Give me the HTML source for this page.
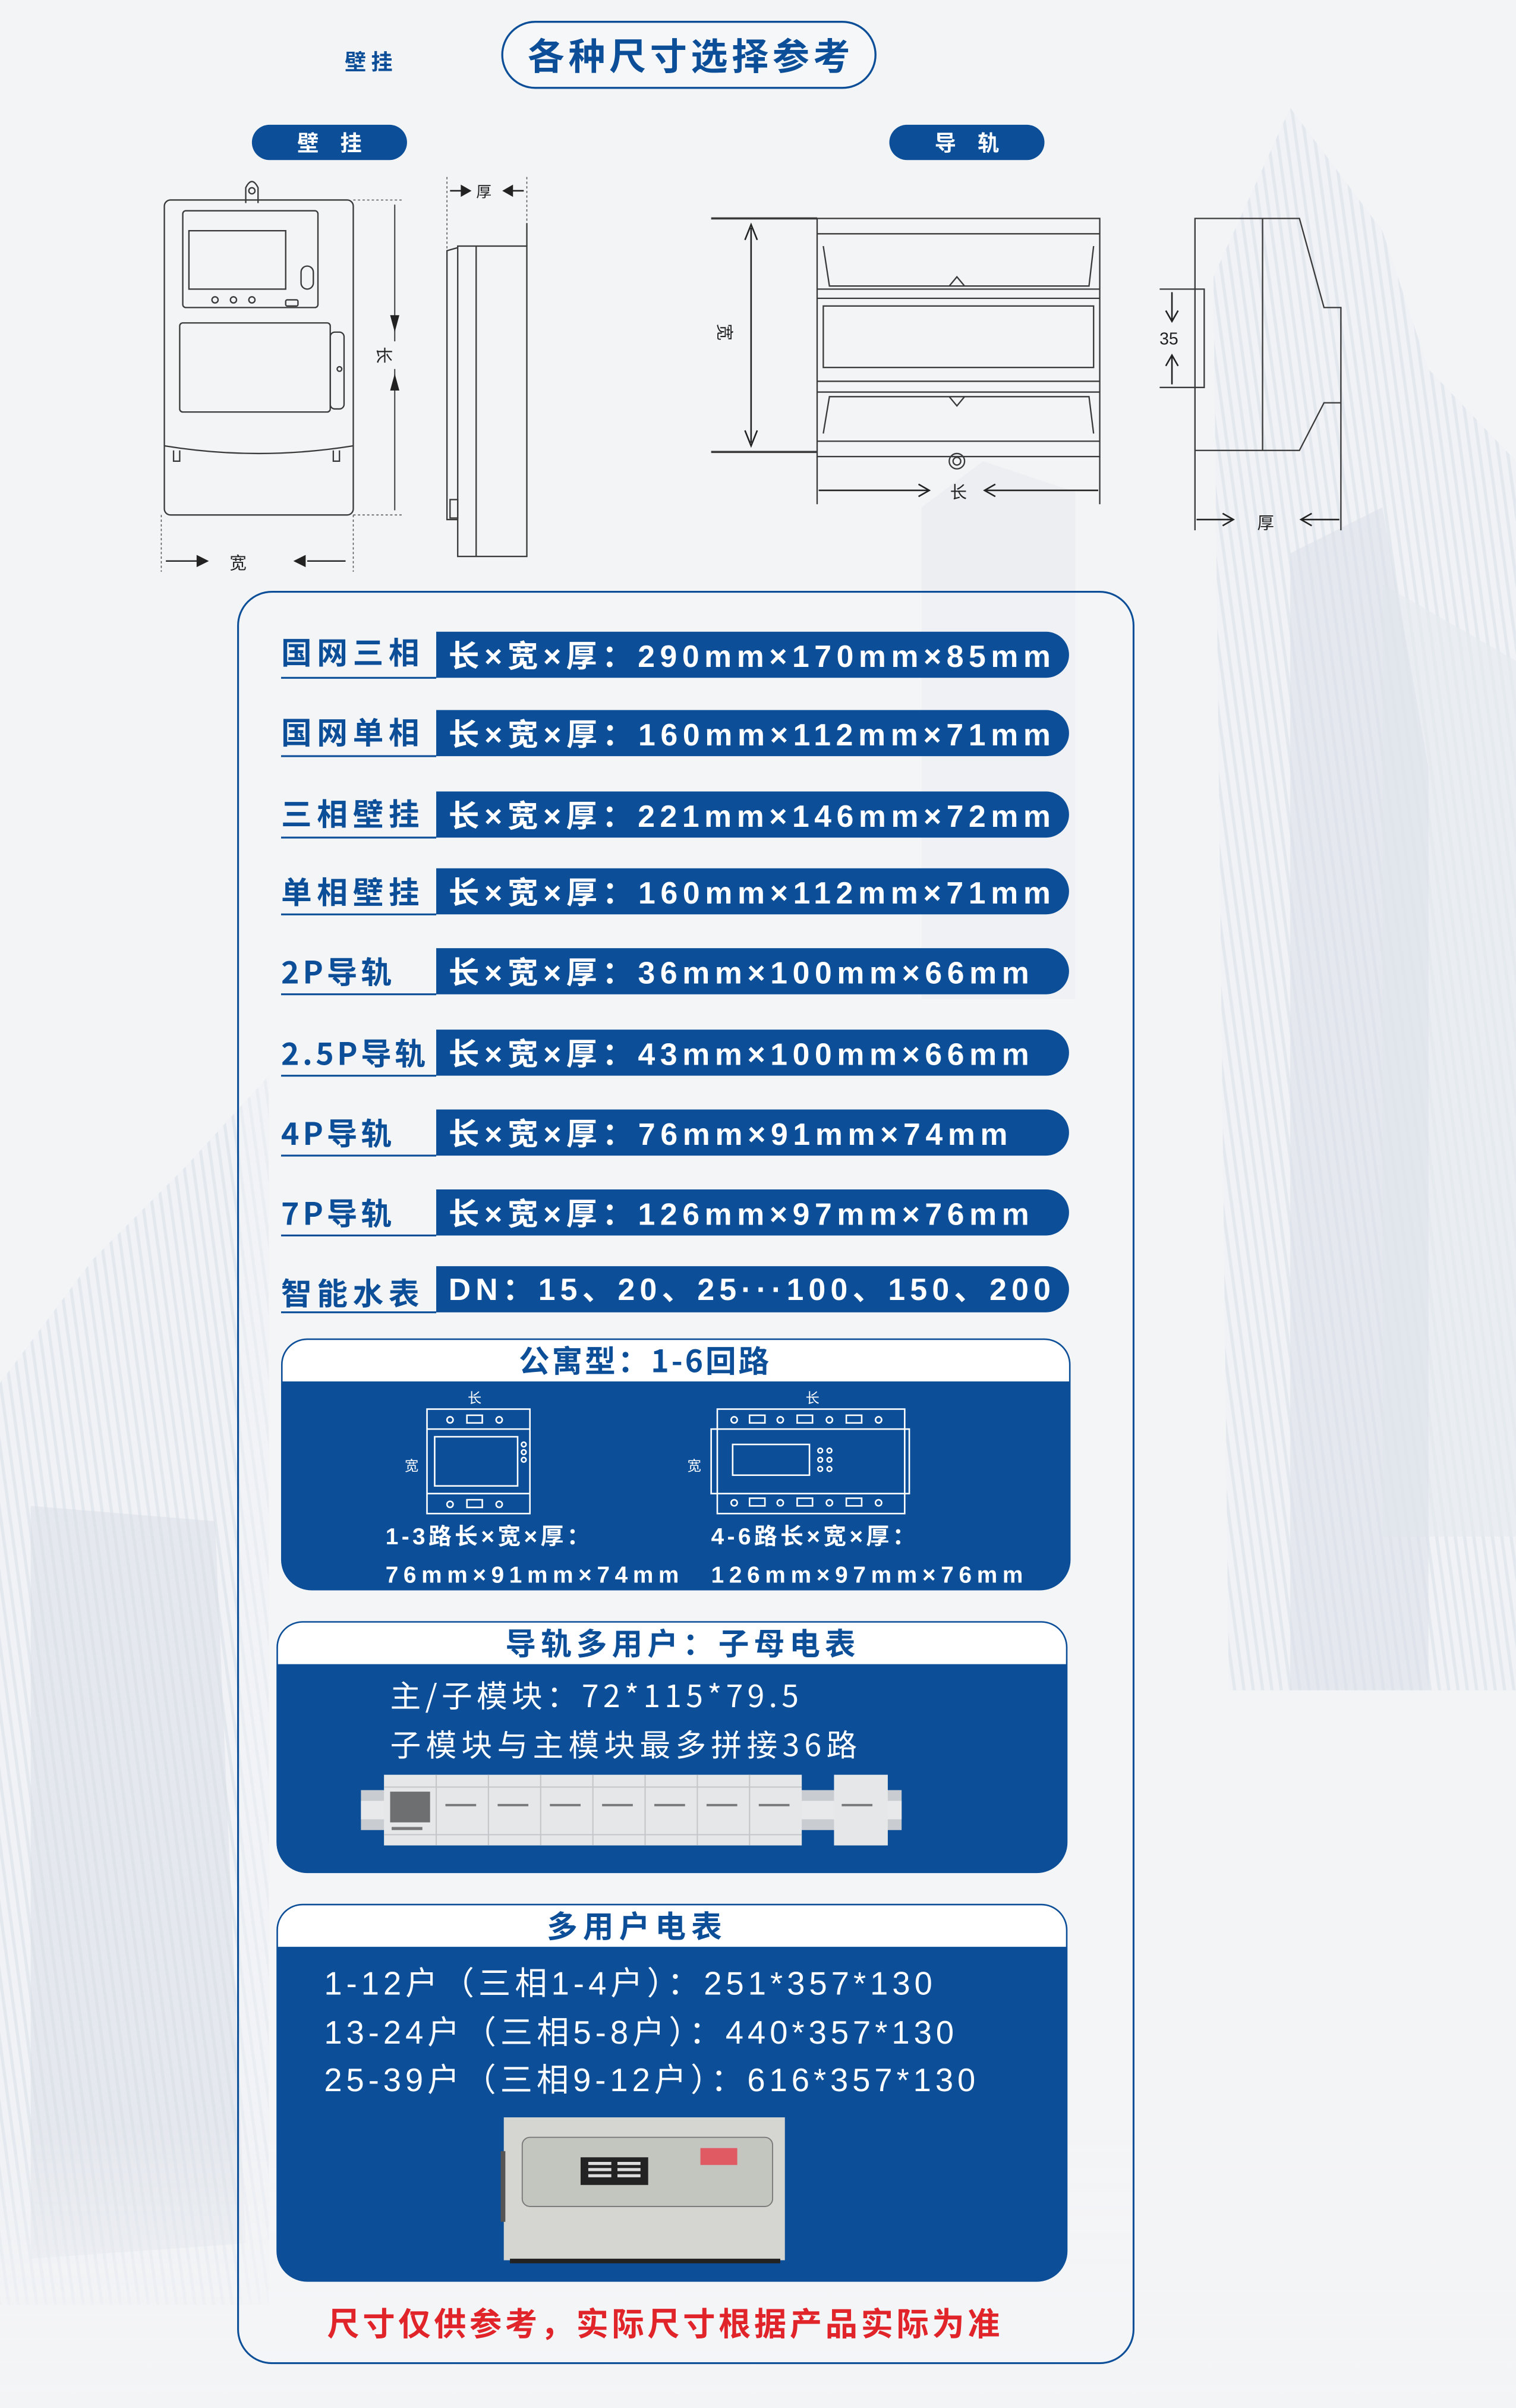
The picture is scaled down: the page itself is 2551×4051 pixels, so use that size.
<!DOCTYPE html>
<html><head><meta charset="utf-8"><style>
html,body{margin:0;padding:0;background:#f3f4f6;}
svg{display:block;}
text{font-family:"Liberation Sans","Noto Sans CJK SC",sans-serif;}
.c{font-family:"Noto Sans CJK SC","Liberation Sans",sans-serif;}
.l{font-family:"Liberation Sans","Noto Sans CJK SC",sans-serif;}
.ln{fill:none;stroke:#3a3a3a;stroke-width:0.9;}
.lt{fill:none;stroke:#555;stroke-width:0.6;}
.b{fill:#0c4f98;}
</style></head><body>
<svg width="2551" height="4051" viewBox="0 0 987 1567" xmlns="http://www.w3.org/2000/svg">
<defs>
<pattern id="st" width="6" height="6" patternUnits="userSpaceOnUse" patternTransform="rotate(-8)">
<rect width="6" height="6" fill="#eef1f5"/><rect width="2" height="6" fill="#dce3ec"/>
</pattern>
<linearGradient id="fade" x1="0" y1="0" x2="0" y2="1">
<stop offset="0" stop-color="#f3f4f6" stop-opacity="0"/><stop offset="1" stop-color="#f3f4f6" stop-opacity="1"/>
</linearGradient>
</defs>
<rect width="987" height="1567" fill="#f3f4f6"/>
<g opacity="0.7">
<polygon points="790,180 840,70 900,150 930,240 987,300 987,1100 800,1100" fill="url(#st)"/>
<polygon points="900,380 987,430 987,1000 900,1000" fill="#dfe6ef" opacity="0.6"/>
<polygon points="0,900 60,820 120,760 175,700 175,1500 0,1500" fill="url(#st)"/>
<polygon points="600,330 640,300 700,320 700,650 600,650" fill="#e6eaf0" opacity="0.7"/>
<polygon points="840,360 900,330 930,500 930,1100 840,1100" fill="#cfd8e4" opacity="0.5"/>
<polygon points="20,980 140,990 160,1460 20,1470" fill="#c9d3e0" opacity="0.45"/>
</g>
<rect x="0" y="1380" width="987" height="187" fill="url(#fade)"/>

<text x="240" y="45" class="c" font-size="14" text-anchor="middle" font-weight="bold" fill="#0c4f98">壁 挂</text>
<rect x="327" y="14" width="243" height="43" rx="21.5" fill="#fff" fill-opacity="0.3" stroke="#0c4f98" stroke-width="1.3"/>
<text x="448.5" y="45" class="c" font-size="24" font-weight="bold" text-anchor="middle" fill="#0c4f98" textLength="210">各种尺寸选择参考</text>

<rect x="164" y="81" width="101" height="23" rx="11.5" class="b"/>
<text x="214.5" y="98" class="c" font-size="14" font-weight="bold" fill="#fff" text-anchor="middle">壁　挂</text>
<rect x="579" y="81" width="101" height="23" rx="11.5" class="b"/>
<text x="629.5" y="98" class="c" font-size="14" font-weight="bold" fill="#fff" text-anchor="middle">导　轨</text>

<g class="ln">
<path d="M160 132 L160 122 Q164 114 168 122 L168 132"/>
<circle cx="164" cy="124" r="2"/>
<rect x="107" y="130" width="123" height="205" rx="4"/>
<rect x="119" y="137" width="88" height="63" rx="2"/>
<rect x="123" y="150" width="63" height="38"/>
<circle cx="140" cy="195" r="2"/><circle cx="152" cy="195" r="2"/><circle cx="164" cy="195" r="2"/>
<rect x="196" y="173" width="8" height="15" rx="4"/>
<rect x="186" y="195" width="8" height="4" rx="1"/>
<rect x="117" y="210" width="98" height="58" rx="2"/>
<rect x="215" y="216" width="9" height="50" rx="3"/>
<path d="M107 290 Q168 300 230 290"/>
<path d="M113 293 L113 300 L117 300 L117 293"/><path d="M217 293 L217 300 L221 300 L221 293"/>
<circle cx="221" cy="240" r="1.5"/>
</g>
<g class="lt" stroke-dasharray="1.5 1.5">
<line x1="230" y1="130" x2="262" y2="130"/><line x1="230" y1="335" x2="262" y2="335"/>
<line x1="105" y1="335" x2="105" y2="372"/><line x1="230" y1="335" x2="230" y2="372"/>
</g>
<line x1="257" y1="133" x2="257" y2="332" stroke="#444" stroke-width="0.8"/>
<polygon points="254,205 260,205 257,216" fill="#222"/>
<polygon points="254,254 260,254 257,243" fill="#222"/>
<rect x="245" y="222" width="14" height="18" fill="#f3f4f6"/>
<text x="251" y="236" class="c" font-size="11" text-anchor="middle" fill="#222" transform="rotate(90 251 231)">长</text>
<line x1="108" y1="365" x2="130" y2="365" stroke="#222" stroke-width="0.9"/><polygon points="128,361 136,365 128,369" fill="#222"/>
<line x1="200" y1="365" x2="225" y2="365" stroke="#222" stroke-width="0.9"/><polygon points="199,361 191,365 199,369" fill="#222"/>
<text x="155" y="370" class="c" font-size="11" text-anchor="middle" fill="#222">宽</text>
<g class="ln">
<rect x="298" y="160" width="45" height="202"/>
<path d="M298 161 L291 163 L291 338 L298 338"/>
<line x1="310" y1="160" x2="310" y2="362"/>
<rect x="293" y="325" width="5" height="12"/>
<line x1="343" y1="145" x2="343" y2="160"/>
</g>
<line x1="291" y1="115" x2="291" y2="162" class="lt" stroke-dasharray="1.5 1.5"/>
<line x1="343" y1="115" x2="343" y2="145" class="lt" stroke-dasharray="1.5 1.5"/>
<line x1="293" y1="124" x2="302" y2="124" stroke="#222"/><polygon points="300,120 307,124 300,128" fill="#222"/>
<line x1="332" y1="124" x2="341" y2="124" stroke="#222"/><polygon points="334,120 327,124 334,128" fill="#222"/>
<text x="315" y="128" class="c" font-size="10" text-anchor="middle" fill="#222">厚</text>

<g class="ln">
<rect x="532" y="142" width="184" height="155"/>
<line x1="463" y1="142" x2="532" y2="142" stroke-width="1.4"/>
<line x1="463" y1="294" x2="532" y2="294" stroke-width="1.4"/>
<line x1="532" y1="152" x2="716" y2="152"/>
<line x1="532" y1="188" x2="716" y2="188"/>
<line x1="532" y1="194" x2="716" y2="194"/>
<line x1="532" y1="248" x2="716" y2="248"/>
<line x1="532" y1="255" x2="716" y2="255"/>
<line x1="532" y1="287" x2="716" y2="287"/>
<rect x="536" y="199" width="176" height="40"/>
<path d="M536 160 L540 186 L709 186 L712 160"/>
<path d="M536 282 L540 258 L709 258 L712 282"/>
<path d="M618 186 L623 180 L628 186"/><path d="M618 258 L623 264 L628 258"/>
<circle cx="623" cy="300" r="5"/><circle cx="623" cy="300" r="2.5"/>
<line x1="532" y1="297" x2="532" y2="328"/><line x1="716" y1="297" x2="716" y2="328"/>
</g>
<line x1="489" y1="148" x2="489" y2="288" stroke="#222"/>
<path d="M485 156 L489 146 L493 156 M485 280 L489 290 L493 280" fill="none" stroke="#222"/>
<text x="472" y="212" class="c" font-size="11" text-anchor="middle" fill="#222" transform="rotate(90 468 212)">宽</text>
<line x1="533" y1="319" x2="604" y2="319" stroke="#222"/><path d="M598 315 L605 319 L598 323" fill="none" stroke="#222"/>
<line x1="642" y1="319" x2="715" y2="319" stroke="#222"/><path d="M648 315 L641 319 L648 323" fill="none" stroke="#222"/>
<text x="624" y="324" class="c" font-size="11" text-anchor="middle" fill="#222">长</text>
<g class="ln">
<path d="M778 142 L846 142 L862 200 L873 200 L873 262 L862 262 L846 293 L778 293 Z"/>
<line x1="822" y1="142" x2="822" y2="293"/>
<path d="M778 188 L784 188 L784 252 L778 252"/>
<line x1="778" y1="293" x2="778" y2="345"/><line x1="873" y1="262" x2="873" y2="345"/>
<line x1="755" y1="188" x2="778" y2="188"/><line x1="755" y1="252" x2="778" y2="252"/>
</g>
<path d="M763 190 L763 208 M759 202 L763 209 L767 202 M763 250 L763 232 M759 238 L763 231 L767 238" fill="none" stroke="#222"/>
<text x="761" y="224" font-size="11" text-anchor="middle" fill="#222">35</text>
<line x1="779" y1="338" x2="802" y2="338" stroke="#222"/><path d="M796 334 L803 338 L796 342" fill="none" stroke="#222"/>
<line x1="848" y1="338" x2="872" y2="338" stroke="#222"/><path d="M854 334 L847 338 L854 342" fill="none" stroke="#222"/>
<text x="824" y="344" class="c" font-size="11" text-anchor="middle" fill="#222">厚</text>

<rect x="155" y="385" width="583" height="1153" rx="22" fill="#f6f7f9" fill-opacity="0.35" stroke="#0c4f98" stroke-width="1.2"/>

<g font-weight="bold">
<g>
<line x1="183" y1="441" x2="284" y2="441" stroke="#0c4f98" stroke-width="1.2"/>
<path d="M284 411 L681 411 A15 15 0 0 1 681 441 L284 441 Z" class="b"/>
<text x="183" y="432" class="c" font-size="20" fill="#0c4f98" textLength="90">国网三相</text>
<text x="292" y="434" class="l" font-size="20" fill="#fff" textLength="392">长×宽×厚：290mm×170mm×85mm</text>
</g>
<g>
<line x1="183" y1="492" x2="284" y2="492" stroke="#0c4f98" stroke-width="1.2"/>
<path d="M284 462 L681 462 A15 15 0 0 1 681 492 L284 492 Z" class="b"/>
<text x="183" y="484" class="c" font-size="20" fill="#0c4f98" textLength="90">国网单相</text>
<text x="292" y="485" class="l" font-size="20" fill="#fff" textLength="392">长×宽×厚：160mm×112mm×71mm</text>
</g>
<g>
<line x1="183" y1="545" x2="284" y2="545" stroke="#0c4f98" stroke-width="1.2"/>
<path d="M284 515 L681 515 A15 15 0 0 1 681 545 L284 545 Z" class="b"/>
<text x="183" y="537" class="c" font-size="20" fill="#0c4f98" textLength="90">三相壁挂</text>
<text x="292" y="538" class="l" font-size="20" fill="#fff" textLength="392">长×宽×厚：221mm×146mm×72mm</text>
</g>
<g>
<line x1="183" y1="595" x2="284" y2="595" stroke="#0c4f98" stroke-width="1.2"/>
<path d="M284 565 L681 565 A15 15 0 0 1 681 595 L284 595 Z" class="b"/>
<text x="183" y="588" class="c" font-size="20" fill="#0c4f98" textLength="90">单相壁挂</text>
<text x="292" y="588" class="l" font-size="20" fill="#fff" textLength="392">长×宽×厚：160mm×112mm×71mm</text>
</g>
<g>
<line x1="183" y1="647" x2="284" y2="647" stroke="#0c4f98" stroke-width="1.2"/>
<path d="M284 617 L681 617 A15 15 0 0 1 681 647 L284 647 Z" class="b"/>
<text x="183" y="640" class="c" font-size="20" fill="#0c4f98" textLength="72">2P导轨</text>
<text x="292" y="640" class="l" font-size="20" fill="#fff" textLength="378">长×宽×厚：36mm×100mm×66mm</text>
</g>
<g>
<line x1="183" y1="700" x2="284" y2="700" stroke="#0c4f98" stroke-width="1.2"/>
<path d="M284 670 L681 670 A15 15 0 0 1 681 700 L284 700 Z" class="b"/>
<text x="183" y="693" class="c" font-size="20" fill="#0c4f98" textLength="94">2.5P导轨</text>
<text x="292" y="693" class="l" font-size="20" fill="#fff" textLength="378">长×宽×厚：43mm×100mm×66mm</text>
</g>
<g>
<line x1="183" y1="752" x2="284" y2="752" stroke="#0c4f98" stroke-width="1.2"/>
<path d="M284 722 L681 722 A15 15 0 0 1 681 752 L284 752 Z" class="b"/>
<text x="183" y="745" class="c" font-size="20" fill="#0c4f98" textLength="72">4P导轨</text>
<text x="292" y="745" class="l" font-size="20" fill="#fff" textLength="364">长×宽×厚：76mm×91mm×74mm</text>
</g>
<g>
<line x1="183" y1="804" x2="284" y2="804" stroke="#0c4f98" stroke-width="1.2"/>
<path d="M284 774 L681 774 A15 15 0 0 1 681 804 L284 804 Z" class="b"/>
<text x="183" y="797" class="c" font-size="20" fill="#0c4f98" textLength="72">7P导轨</text>
<text x="292" y="797" class="l" font-size="20" fill="#fff" textLength="378">长×宽×厚：126mm×97mm×76mm</text>
</g>
<g>
<line x1="183" y1="854" x2="284" y2="854" stroke="#0c4f98" stroke-width="1.2"/>
<path d="M284 824 L681 824 A15 15 0 0 1 681 854 L284 854 Z" class="b"/>
<text x="183" y="849" class="c" font-size="20" fill="#0c4f98" textLength="90">智能水表</text>
<text x="292" y="846" class="l" font-size="20" fill="#fff" textLength="392">DN：15、20、25···100、150、200</text>
</g>
</g>

<path d="M183 1015 L183 888 A17 17 0 0 1 200 871 L680 871 A17 17 0 0 1 697 888 L697 1015 A20 20 0 0 1 677 1035 L203 1035 A20 20 0 0 1 183 1015 Z" class="b"/>
<path d="M184 899 L184 888 A16 16 0 0 1 200 872 L680 872 A16 16 0 0 1 696 888 L696 899 Z" fill="#fff"/>
<text x="420" y="893" class="c" font-size="20" font-weight="bold" fill="#0c4f98" text-anchor="middle" letter-spacing="1.5">公寓型：1-6回路</text>
<g fill="none" stroke="#fff" stroke-width="1">
<rect x="278" y="917" width="67" height="68"/>
<line x1="278" y1="930" x2="345" y2="930"/><line x1="278" y1="972" x2="345" y2="972"/>
<rect x="283" y="935" width="54" height="32"/>
<circle cx="293" cy="924" r="2"/><rect x="304" y="921" width="10" height="5"/><circle cx="325" cy="924" r="2"/>
<circle cx="293" cy="979" r="2"/><rect x="304" y="976" width="10" height="5"/><circle cx="325" cy="979" r="2"/>
<circle cx="341" cy="940" r="1.5"/><circle cx="341" cy="945" r="1.5"/><circle cx="341" cy="950" r="1.5"/>
<rect x="467" y="917" width="122" height="68"/>
<rect x="463" y="930" width="129" height="42"/>
<rect x="477" y="940" width="50" height="20"/>
<circle cx="478" cy="924" r="2"/><rect x="488" y="921" width="10" height="5"/><circle cx="508" cy="924" r="2"/><rect x="519" y="921" width="10" height="5"/><circle cx="540" cy="924" r="2"/><rect x="551" y="921" width="10" height="5"/><circle cx="572" cy="924" r="2"/>
<circle cx="478" cy="978" r="2"/><rect x="488" y="975" width="10" height="5"/><circle cx="508" cy="978" r="2"/><rect x="519" y="975" width="10" height="5"/><circle cx="540" cy="978" r="2"/><rect x="551" y="975" width="10" height="5"/><circle cx="572" cy="978" r="2"/>
<circle cx="534" cy="944" r="1.5"/><circle cx="540" cy="944" r="1.5"/><circle cx="534" cy="950" r="1.5"/><circle cx="540" cy="950" r="1.5"/><circle cx="534" cy="956" r="1.5"/><circle cx="540" cy="956" r="1.5"/>
</g>
<g class="c" fill="#fff">
<text x="309" y="913" font-size="9" text-anchor="middle">长</text>
<text x="529" y="913" font-size="9" text-anchor="middle">长</text>
<text x="268" y="957" font-size="9" text-anchor="middle">宽</text>
<text x="452" y="957" font-size="9" text-anchor="middle">宽</text>
</g>
<g class="l" fill="#fff" font-weight="bold">
<text x="251" y="1005" font-size="15" textLength="133">1-3路长×宽×厚：</text>
<text x="251" y="1030" font-size="15" textLength="191">76mm×91mm×74mm</text>
<text x="463" y="1005" font-size="15" textLength="133">4-6路长×宽×厚：</text>
<text x="463" y="1030" font-size="15" textLength="203">126mm×97mm×76mm</text>
</g>

<path d="M180 1199 L180 1072 A17 17 0 0 1 197 1055 L678 1055 A17 17 0 0 1 695 1072 L695 1199 A20 20 0 0 1 675 1219 L200 1219 A20 20 0 0 1 180 1199 Z" class="b"/>
<path d="M181 1083 L181 1072 A16 16 0 0 1 197 1056 L678 1056 A16 16 0 0 1 694 1072 L694 1083 Z" fill="#fff"/>
<text x="443" y="1077" class="c" font-size="20" font-weight="bold" fill="#0c4f98" text-anchor="middle" textLength="228">导轨多用户：子母电表</text>
<text x="254" y="1111" class="c" font-size="20" fill="#fff" textLength="266">主/子模块：72*115*79.5</text>
<text x="254" y="1143" class="c" font-size="20" fill="#fff" textLength="304">子模块与主模块最多拼接36路</text>
<rect x="235" y="1165" width="352" height="26" fill="#c9ccd0"/>
<rect x="235" y="1172" width="352" height="12" fill="#e8e9eb"/>
<rect x="250" y="1155" width="272" height="46" fill="#e6e7e9"/>
<rect x="543" y="1155" width="35" height="46" fill="#e6e7e9"/>
<g stroke="#c4c6c9" stroke-width="0.8">
<line x1="284" y1="1155" x2="284" y2="1201"/><line x1="318" y1="1155" x2="318" y2="1201"/><line x1="352" y1="1155" x2="352" y2="1201"/><line x1="386" y1="1155" x2="386" y2="1201"/><line x1="420" y1="1155" x2="420" y2="1201"/><line x1="454" y1="1155" x2="454" y2="1201"/><line x1="488" y1="1155" x2="488" y2="1201"/>
<line x1="250" y1="1163" x2="522" y2="1163"/><line x1="250" y1="1194" x2="522" y2="1194"/>
</g>
<rect x="254" y="1166" width="26" height="20" fill="#6e6f71"/>
<g fill="#777">
<rect x="290" y="1174" width="20" height="1.5"/><rect x="324" y="1174" width="20" height="1.5"/><rect x="358" y="1174" width="20" height="1.5"/><rect x="392" y="1174" width="20" height="1.5"/><rect x="426" y="1174" width="20" height="1.5"/><rect x="460" y="1174" width="20" height="1.5"/><rect x="494" y="1174" width="20" height="1.5"/><rect x="548" y="1174" width="20" height="1.5"/>
<rect x="255" y="1189" width="20" height="2"/>
</g>

<path d="M180 1465 L180 1256 A17 17 0 0 1 197 1239 L678 1239 A17 17 0 0 1 695 1256 L695 1465 A20 20 0 0 1 675 1485 L200 1485 A20 20 0 0 1 180 1465 Z" class="b"/>
<path d="M181 1267 L181 1256 A16 16 0 0 1 197 1240 L678 1240 A16 16 0 0 1 694 1256 L694 1267 Z" fill="#fff"/>
<text x="413" y="1261" class="c" font-size="20" font-weight="bold" fill="#0c4f98" text-anchor="middle" textLength="114">多用户电表</text>
<g class="c" fill="#fff" font-size="21">
<text x="211" y="1298" textLength="396">1-12户（三相1-4户）：251*357*130</text>
<text x="211" y="1330" textLength="410">13-24户（三相5-8户）：440*357*130</text>
<text x="211" y="1361" textLength="424">25-39户（三相9-12户）：616*357*130</text>
</g>
<rect x="328" y="1378" width="183" height="93" fill="#d5d5d1"/>
<rect x="326" y="1400" width="3" height="46" fill="#555"/>
<rect x="340" y="1391" width="163" height="45" rx="5" fill="#c3c5bf" stroke="#777" stroke-width="0.7"/>
<rect x="378" y="1404" width="44" height="18" fill="#232323"/>
<g fill="#ddd"><rect x="383" y="1407" width="15" height="2"/><rect x="383" y="1411" width="15" height="2"/><rect x="383" y="1415" width="15" height="2"/><rect x="402" y="1407" width="15" height="2"/><rect x="402" y="1411" width="15" height="2"/><rect x="402" y="1415" width="15" height="2"/></g>
<rect x="456" y="1398" width="24" height="11" fill="#e05a64"/>
<rect x="332" y="1470" width="176" height="3" fill="#222"/>

<text x="432" y="1520" class="c" font-size="21" font-weight="bold" fill="#e0242a" text-anchor="middle" textLength="438">尺寸仅供参考，实际尺寸根据产品实际为准</text>
</svg>
</body></html>
